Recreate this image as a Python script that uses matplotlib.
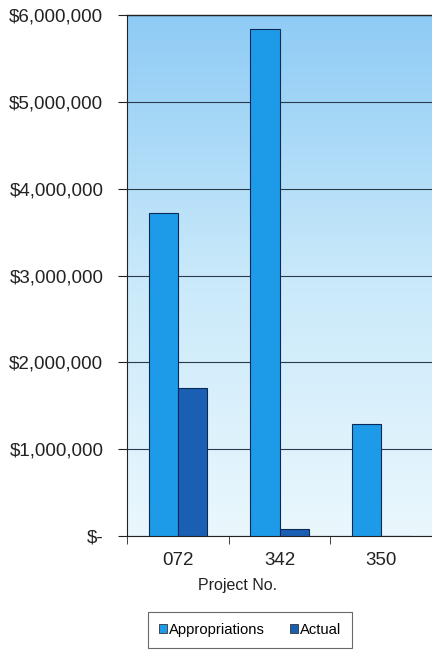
import numpy as np
import matplotlib
matplotlib.use("Agg")
import matplotlib.pyplot as plt
from matplotlib.colors import LinearSegmentedColormap

plt.rcParams['font.family'] = ['Liberation Sans', 'DejaVu Sans']

projects = ["072", "342", "350"]
appropriations = [3720000, 5840000, 1290000]
actual = [1705000, 80000, 0]
yticks = [0, 1000000, 2000000, 3000000, 4000000, 5000000, 6000000]
ytick_labels = ["$-", "$1,000,000", "$2,000,000", "$3,000,000", "$4,000,000", "$5,000,000", "$6,000,000"]

fig = plt.figure(figsize=(4.32, 6.5), dpi=100)
ax = fig.add_axes([0.294, 0.175, 0.706, 0.802])

x = np.arange(len(projects))
w = 1 / 3.5
ax.bar(x - w / 2, appropriations, width=w, color="#1e9be8", edgecolor="#0a2a55", linewidth=0.8, label="Appropriations", zorder=3)
ax.bar(x + w / 2, actual, width=w, color="#1a5fb4", edgecolor="#0a2a55", linewidth=0.8, label="Actual", zorder=3)

ax.set_xlim(-0.5, 2.5)
ax.set_ylim(0, 6000000)

cmap = LinearSegmentedColormap.from_list("bg", ["#eaf7fd", "#c9e9fa", "#8ecbf5"])
grad = np.linspace(0, 1, 256).reshape(-1, 1)
ax.imshow(grad, cmap=cmap, aspect='auto', extent=(-0.5, 2.5, 0, 6000000), origin='lower', zorder=0)

ax.set_yticks(yticks)
ax.set_yticklabels(ytick_labels, fontsize=13.5, color="#222222")
ax.yaxis.grid(True, color="#2a3a4a", linewidth=0.8, zorder=1)
ax.set_axisbelow(False)
ax.set_xticks(x)
ax.set_xticklabels(projects, fontsize=13.5, color="#222222")
ax.set_xticks([-0.5, 0.5, 1.5], minor=True)
ax.tick_params(axis='x', which='major', length=0, pad=11)
ax.tick_params(axis='x', which='minor', length=6, direction='out', color="#222222")
ax.tick_params(axis='y', length=6.5, direction='out', color="#222222", pad=10.5)
ax.set_xlabel("Project No.", fontsize=11.5, color="#222222")
ax.xaxis.set_label_coords((238 - 127) / 305, -(585 - 536) / 521)
ax.xaxis.label.set_va("center")

for s in ["top", "right"]:
    ax.spines[s].set_visible(False)
ax.spines["left"].set_color("#222222")
ax.spines["bottom"].set_color("#222222")
ax.plot([-0.5, 2.5], [6000000, 6000000], color="#222222", linewidth=1, zorder=4, clip_on=False)

leg = fig.legend(loc="center", bbox_to_anchor=(250 / 432, 1 - 630 / 650), ncol=2, fontsize=10.6,
                 frameon=True, fancybox=False, edgecolor="#444444", handlelength=0.55,
                 handleheight=0.55, handletextpad=0.15, columnspacing=1.7, borderpad=0.75)
leg.get_frame().set_linewidth(0.8)
for h in leg.legend_handles:
    h.set_edgecolor("#333333")
    h.set_linewidth(0.6)

fig.savefig("out.png", dpi=100, facecolor="white")
